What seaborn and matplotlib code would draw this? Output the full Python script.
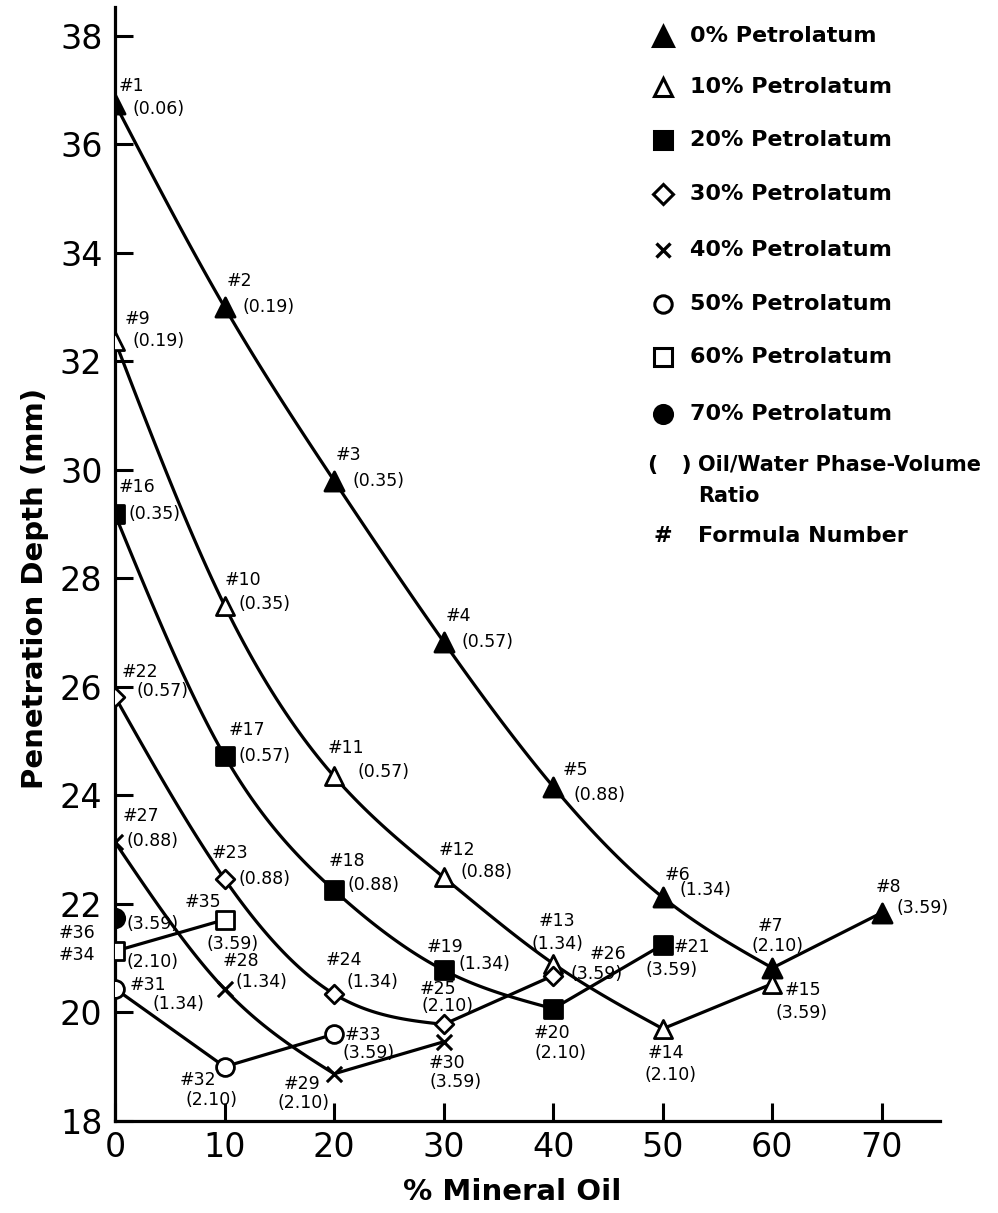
import numpy as np
import pandas as pd
import matplotlib
matplotlib.use("Agg")
import matplotlib.pyplot as plt
from matplotlib.lines import Line2D
import seaborn as sns

# % mineral oil (x axis)
mineral_oil = [0, 10, 20, 30, 40, 50, 60, 70]

# penetration depth (mm) per petrolatum level
depth_0 = [36.75, 33.0, 29.8, 26.83, 24.16, 22.12, 20.82, 21.84]
depth_10 = [32.38, 27.5, 24.35, 22.49, 20.9, 19.7, 20.53]
depth_20 = [29.18, 24.73, 22.25, 20.78, 20.07, 21.25]
depth_30 = [25.82, 22.46, 20.34, 19.78, 20.68]
depth_40 = [23.14, 20.43, 18.87, 19.46]
depth_50 = [20.44, 19.0, 19.6]
depth_60 = [21.13, 21.71]
depth_70 = [21.74]

# formula numbers
formula_0 = [1, 2, 3, 4, 5, 6, 7, 8]
formula_10 = [9, 10, 11, 12, 13, 14, 15]
formula_20 = [16, 17, 18, 19, 20, 21]
formula_30 = [22, 23, 24, 25, 26]
formula_40 = [27, 28, 29, 30]
formula_50 = [31, 32, 33]
formula_60 = [34, 35]
formula_70 = [36]

# oil/water phase-volume ratios
ratio_0 = ["0.06", "0.19", "0.35", "0.57", "0.88", "1.34", "2.10", "3.59"]
ratio_10 = ["0.19", "0.35", "0.57", "0.88", "1.34", "2.10", "3.59"]
ratio_20 = ["0.35", "0.57", "0.88", "1.34", "2.10", "3.59"]
ratio_30 = ["0.57", "0.88", "1.34", "2.10", "3.59"]
ratio_40 = ["0.88", "1.34", "2.10", "3.59"]
ratio_50 = ["1.34", "2.10", "3.59"]
ratio_60 = ["2.10", "3.59"]
ratio_70 = ["3.59"]

series_labels = ["0% Petrolatum", "10% Petrolatum", "20% Petrolatum", "30% Petrolatum",
                 "40% Petrolatum", "50% Petrolatum", "60% Petrolatum", "70% Petrolatum"]
ratio_note = ["Oil/Water Phase-Volume", "Ratio"]
formula_note = "Formula Number"

depths = [depth_0, depth_10, depth_20, depth_30, depth_40, depth_50, depth_60, depth_70]
formulas = [formula_0, formula_10, formula_20, formula_30, formula_40, formula_50, formula_60, formula_70]
ratios = [ratio_0, ratio_10, ratio_20, ratio_30, ratio_40, ratio_50, ratio_60, ratio_70]

rows = []
for lab, dep, frm, rat in zip(series_labels, depths, formulas, ratios):
    for x, y, f, r in zip(mineral_oil, dep, frm, rat):
        rows.append({"oil": x, "depth": y, "series": lab, "formula": f, "ratio": r})
df = pd.DataFrame(rows)

# marker styles (marker, filled, scatter size, legend size)
styles = [("^", True, 190, 14), ("^", False, 170, 13), ("s", True, 150, 13), ("D", False, 90, 10),
          ("x", None, 120, 10), ("o", False, 165, 12.5), ("s", False, 150, 13), ("o", True, 175, 13)]

# label offsets in pixels: (#dx, #dy, ratio dx, ratio dy)
default_off = (2, 26, 18, 0)
label_off = {
    1: (4, 18, 17, -5), 5: (9, 17, 20, -8), 6: (2, 22, 17, 7), 7: (-15, 42, -21, 22),
    8: (-6, 26, 15, 5), 9: (10, 22, 17, 0), 10: (0, 26, 14, 2), 11: (-6, 28, 23, 4),
    12: (-5, 27, 17, 5), 13: (-15, 43, -22, 20), 14: (-15, -24, -18, -46),
    15: (12, -6, 3, -29), 16: (4, 27, 13, 0), 17: (4, 26, 14, 0), 18: (-5, 29, 13, 5),
    19: (-17, 23, 15, 6), 20: (-20, -24, -19, -44), 21: (11, -2, -17, -25),
    22: (7, 25, 22, 6), 23: (-13, 26, 14, 0), 24: (-8, 34, 12, 12),
    25: (-24, 35, -22, 18), 26: (36, 22, 17, 2), 27: (8, 26, 12, 1), 28: (-2, 28, 11, 7),
    29: (-50, -10, -57, -29), 30: (-15, -21, -14, -40), 31: (15, 4, 37, -15),
    32: (-45, -13, -39, -33), 33: (11, -1, 8, -19), 34: (-56, -4, 12, -11),
    35: (-40, 18, -18, -24), 36: (-56, -15, 11, -6),
}


def natural_spline(x, y, num=120):
    x = np.asarray(x, float)
    y = np.asarray(y, float)
    n = len(x)
    if n < 3:
        return x, y
    h = np.diff(x)
    A = np.zeros((n, n))
    b = np.zeros(n)
    A[0, 0] = A[-1, -1] = 1
    for i in range(1, n - 1):
        A[i, i - 1] = h[i - 1]
        A[i, i] = 2 * (h[i - 1] + h[i])
        A[i, i + 1] = h[i]
        b[i] = 3 * ((y[i + 1] - y[i]) / h[i] - (y[i] - y[i - 1]) / h[i - 1])
    c = np.linalg.solve(A, b)
    xs = np.linspace(x[0], x[-1], num)
    idx = np.clip(np.searchsorted(x, xs) - 1, 0, n - 2)
    dx = xs - x[idx]
    bb = (y[idx + 1] - y[idx]) / h[idx] - h[idx] * (2 * c[idx] + c[idx + 1]) / 3
    d = (c[idx + 1] - c[idx]) / (3 * h[idx])
    return xs, y[idx] + bb * dx + c[idx] * dx ** 2 + d * dx ** 3


sns.set_style("ticks")
plt.rcParams["font.family"] = ["DejaVu Sans"]
plt.rcParams.update({"text.color": "black", "axes.labelcolor": "black",
                     "xtick.color": "black", "ytick.color": "black",
                     "axes.edgecolor": "black"})

fig = plt.figure(figsize=(9.98, 12.13), dpi=100)
ax = fig.add_axes([115 / 998, 1 - 1121 / 1213, 825 / 998, 1114 / 1213])

for lab, (mk, filled, size, _) in zip(series_labels, styles):
    sub = df[df["series"] == lab]
    xv = sub["oil"].to_numpy()
    yv = sub["depth"].to_numpy()
    if len(xv) > 1:
        k = int(np.argmin(yv))
        if k == 0:
            k = len(xv) - 1 if yv[-1] < yv[0] else 0
        if k > 0:
            xs, ys = natural_spline(xv[:k + 1], yv[:k + 1])
            sns.lineplot(x=xs, y=ys, sort=False, estimator=None, color="black",
                         linewidth=2.3, ax=ax)
        if k < len(xv) - 1:
            sns.lineplot(x=xv[k:], y=yv[k:], sort=False, estimator=None, color="black",
                         linewidth=2.3, ax=ax)
    if filled is None:
        sns.scatterplot(data=sub, x="oil", y="depth", marker=mk, s=size, color="black",
                        linewidth=2.2, zorder=4, ax=ax, legend=False)
    else:
        sns.scatterplot(data=sub, x="oil", y="depth", marker=mk, s=size,
                        facecolor="black" if filled else "white", edgecolor="black",
                        linewidth=2.0, zorder=4, ax=ax, legend=False)

for _, r in df.iterrows():
    hdx, hdy, rdx, rdy = label_off.get(int(r["formula"]), default_off)
    ax.annotate(f"#{int(r['formula'])}", xy=(r["oil"], r["depth"]), xytext=(hdx, hdy),
                textcoords="offset pixels", ha="left", va="center", fontsize=12.5, zorder=5)
    ax.annotate(f"({r['ratio']})", xy=(r["oil"], r["depth"]), xytext=(rdx, rdy),
                textcoords="offset pixels", ha="left", va="center", fontsize=12.5, zorder=5)

ax.set_xlim(0, 75.3)
ax.set_ylim(18, 38.53)
ax.set_xticks(range(0, 80, 10))
ax.set_yticks(range(18, 40, 2))
ax.tick_params(direction="in", length=13, width=2.2, labelsize=24)
ax.tick_params(axis="y", pad=9)
ax.tick_params(axis="x", pad=7)
ax.set_xlabel("")
ax.set_ylabel("")
for side in ["top", "right"]:
    ax.spines[side].set_visible(False)
for side in ["left", "bottom"]:
    ax.spines[side].set_linewidth(2.3)

fig.text(35 / 998, 1 - 588 / 1213, "Penetration Depth (mm)", rotation=90,
         ha="center", va="center", fontsize=21, fontweight="bold")
fig.text(512 / 998, 1 - 1192 / 1213, "% Mineral Oil", ha="center", va="center",
         fontsize=21, fontweight="bold")

# hand-built legend
leg_y = [36, 87, 140, 194, 250, 304, 357, 414]
for lab, (mk, filled, size, ms), yy in zip(series_labels, styles, leg_y):
    if filled is None:
        h = Line2D([663 / 998], [1 - yy / 1213], marker=mk, ms=ms, mew=2.4, color="black",
                   ls="none", transform=fig.transFigure)
    else:
        h = Line2D([663 / 998], [1 - yy / 1213], marker=mk, ms=ms,
                   mfc="black" if filled else "white", mec="black", mew=2.2, ls="none",
                   transform=fig.transFigure)
    fig.add_artist(h)
    fig.text(690 / 998, 1 - yy / 1213, lab, ha="left", va="center", fontsize=16,
             fontweight="bold")
fig.text(648 / 998, 1 - 465 / 1213, "(   )", ha="left", va="center", fontsize=16,
         fontweight="bold")
fig.text(698 / 998, 1 - 465 / 1213, ratio_note[0], ha="left", va="center", fontsize=15,
         fontweight="bold")
fig.text(698 / 998, 1 - 496 / 1213, ratio_note[1], ha="left", va="center", fontsize=15,
         fontweight="bold")
fig.text(663 / 998, 1 - 536 / 1213, "#", ha="center", va="center", fontsize=16,
         fontweight="bold")
fig.text(698 / 998, 1 - 536 / 1213, formula_note, ha="left", va="center", fontsize=16,
         fontweight="bold")

fig.savefig("out.png", dpi=100)
